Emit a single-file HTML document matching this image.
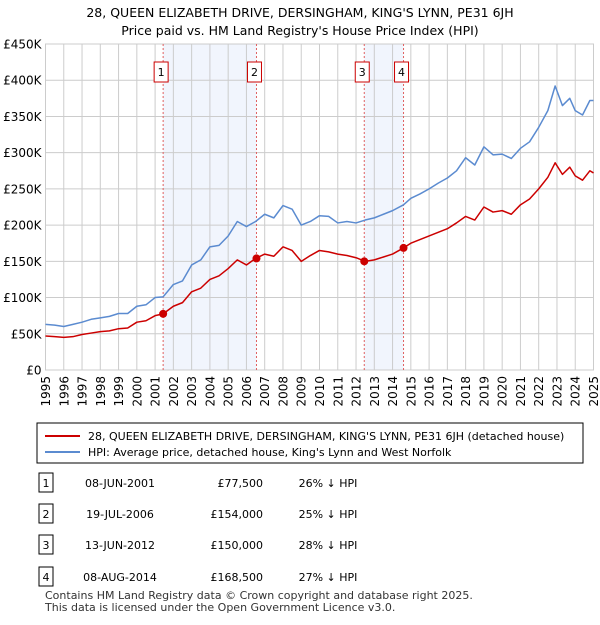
<!DOCTYPE html>
<html><head><meta charset="utf-8"><style>
body{margin:0;background:#fff;font-family:"Liberation Sans","DejaVu Sans",sans-serif;}
svg text{font-family:"DejaVu Sans","Liberation Sans",sans-serif;}
</style></head><body>
<svg width="600" height="620" xmlns="http://www.w3.org/2000/svg">
<text x="300" y="17" text-anchor="middle" font-size="12.5">28, QUEEN ELIZABETH DRIVE, DERSINGHAM, KING'S LYNN, PE31 6JH</text>
<text x="300" y="35" text-anchor="middle" font-size="12.5">Price paid vs. HM Land Registry's House Price Index (HPI)</text>
<g id="plot"></g>
<rect x="37" y="423" width="546" height="40" fill="#fff" stroke="#000" stroke-width="1"/>
<line x1="45" y1="436" x2="80" y2="436" stroke="#cc0000" stroke-width="2"/>
<text x="88" y="440" font-size="11">28, QUEEN ELIZABETH DRIVE, DERSINGHAM, KING'S LYNN, PE31 6JH (detached house)</text>
<line x1="45" y1="452" x2="80" y2="452" stroke="#5b8bd0" stroke-width="2"/>
<text x="88" y="456" font-size="11">HPI: Average price, detached house, King's Lynn and West Norfolk</text>
<g id="table" font-size="11"></g>
<text x="45" y="599" font-size="11" fill="#333">Contains HM Land Registry data © Crown copyright and database right 2025.</text>
<text x="45" y="611" font-size="11" fill="#333">This data is licensed under the Open Government Licence v3.0.</text>
</svg>
<script>
const hpiYears=[1995,1995.5,1996,1996.5,1997,1997.5,1998,1998.5,1999,1999.5,2000,2000.5,2001,2001.44,2002,2002.5,2003,2003.5,2004,2004.5,2005,2005.5,2006,2006.5,2007,2007.5,2008,2008.5,2009,2009.5,2010,2010.5,2011,2011.5,2012,2012.5,2013,2013.5,2014,2014.6,2015,2015.5,2016,2016.5,2017,2017.5,2018,2018.5,2019,2019.5,2020,2020.5,2021,2021.5,2022,2022.5,2022.9,2023.3,2023.7,2024,2024.4,2024.8,2025];
const hpiValues=[63,62,60,63,66,70,72,74,78,78,88,90,100,101,118,123,145,152,170,172,185,205,198,205,215,210,227,222,200,205,213,212,203,205,203,207,210,215,220,228,237,243,250,258,265,275,293,283,308,297,298,292,306,315,335,358,392,365,375,358,352,372,372];
const priceYears=hpiYears;
const priceValues=[47,46,45,46,49,51,53,54,57,58,66,68,75,77.5,88,93,108,113,125,130,140,152,145,154,160,157,170,165,150,158,165,163,160,158,155,150,152,156,160,168.5,175,180,185,190,195,203,212,207,225,218,220,215,228,236,250,266,286,270,280,268,262,275,272];
const saleYears=[2001.44,2006.55,2012.45,2014.6];
const saleValues=[77.5,154,150,168.5];
const saleLabels=["1","2","3","4"];
const saleDates=["08-JUN-2001","19-JUL-2006","13-JUN-2012","08-AUG-2014"];
const salePrices=["£77,500","£154,000","£150,000","£168,500"];
const saleDiffs=["26% ↓ HPI","25% ↓ HPI","28% ↓ HPI","27% ↓ HPI"];
const yTicks=[0,50,100,150,200,250,300,350,400,450];
const yTickLabels=["£0","£50K","£100K","£150K","£200K","£250K","£300K","£350K","£400K","£450K"];
const xTicks=[];for(let y=1995;y<=2025;y++)xTicks.push(y);

const NS="http://www.w3.org/2000/svg";
const X0=45.5,X1=593.5,Y0=370,Y1=44;
const sx=y=>X0+(y-1995)/30*(X1-X0);
const sy=v=>Y0-v/450*(Y0-Y1);
const plot=document.getElementById('plot');
function mk(tag,attrs,parent){const e=document.createElementNS(NS,tag);for(const k in attrs)e.setAttribute(k,attrs[k]);(parent||plot).appendChild(e);return e;}
for(const [a,b] of [[0,1],[2,3]]){
 const r=mk('rect',{x:sx(saleYears[a]),y:Y1,width:sx(saleYears[b])-sx(saleYears[a]),height:Y0-Y1,fill:'#eef3fc',opacity:0.8});
 
 
}
yTicks.forEach((t,i)=>{
 const l=mk('line',{x1:X0,x2:X1,y1:sy(t),y2:sy(t),stroke:'#cccccc','stroke-width':1});
 
 
 const tx=mk('text',{x:X0-4,y:sy(t)+4.5,'text-anchor':'end','font-size':12});
 tx.textContent=yTickLabels[i];
 
 
});
xTicks.forEach(t=>{
 const l=mk('line',{x1:sx(t),x2:sx(t),y1:Y1,y2:Y0,stroke:'#cccccc','stroke-width':1});
 
 
 const tx=mk('text',{x:0,y:0,'text-anchor':'end','font-size':12,transform:`translate(${sx(t)+4.5},${Y0+6}) rotate(-90)`});
 tx.textContent=t;
 
 
});
const bx=mk('rect',{x:X0,y:Y1,width:X1-X0,height:Y0-Y1,fill:'none',stroke:'#cccccc'});


saleYears.forEach((y,i)=>{
 const l=mk('line',{x1:sx(y),x2:sx(y),y1:Y1,y2:Y0,stroke:'#e06060','stroke-width':1,'stroke-dasharray':'2,2'});
 
 
 const r=mk('rect',{x:sx(y)-9,y:62,width:14,height:20,fill:'#fff',stroke:'#cc0000'});
 
 
 const t=mk('text',{x:sx(y)-2,y:76,'text-anchor':'middle','font-size':11});
 t.textContent=saleLabels[i];
 
 
});
function line(xs,vs,col,name){
 const p=mk('polyline',{points:xs.map((x,i)=>sx(x)+','+sy(vs[i])).join(' '),fill:'none',stroke:col,'stroke-width':1.5,'stroke-linejoin':'round'});
 
 
}
line(hpiYears,hpiValues,'#5b8bd0','hpi-line');
line(priceYears,priceValues,'#cc0000','price-line');
saleYears.forEach((y,i)=>{
 const c=mk('circle',{cx:sx(y),cy:sy(saleValues[i]),r:4,fill:'#cc0000'});
 
 
});
const tb=document.getElementById('table');
const rowY=[483,514,545,577];
saleLabels.forEach((s,i)=>{
 const r=mk('rect',{x:39,y:rowY[i]-10,width:14,height:19,fill:'#fff',stroke:'#000'},tb);
 
 
 const cells=[[46,s,'middle'],[120,saleDates[i],'middle'],[263,salePrices[i],'end'],[328,saleDiffs[i],'middle']];
 cells.forEach(c=>{
  const t=mk('text',{x:c[0],y:rowY[i]+4,'text-anchor':c[2]},tb);
  t.textContent=c[1];
  
  
 });
});
</script>
</body></html>
